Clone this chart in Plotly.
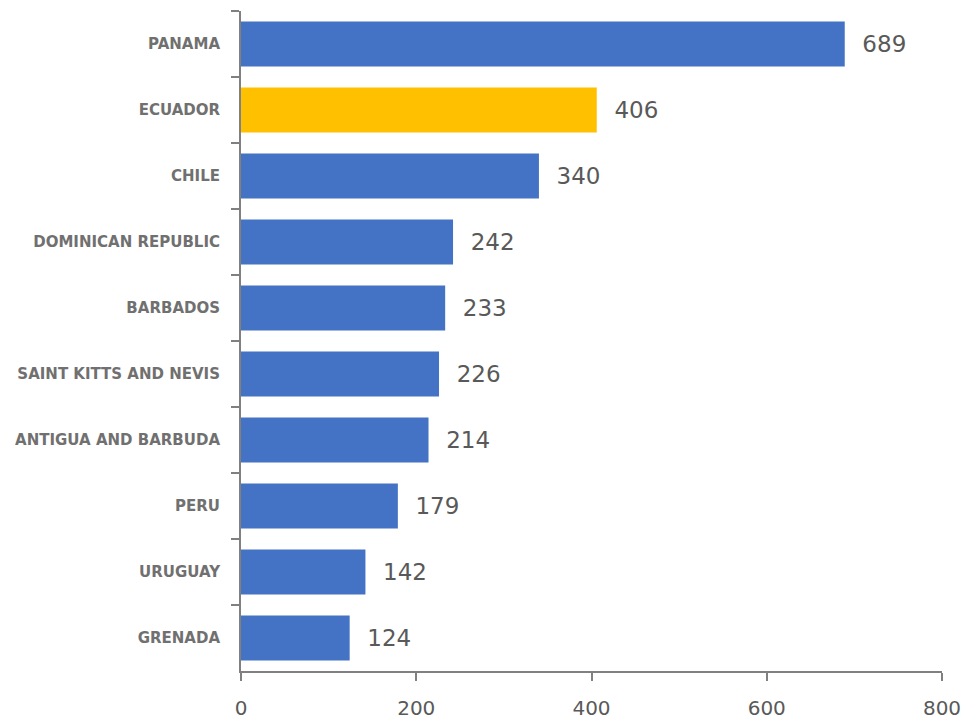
import plotly.graph_objects as go

countries = ["PANAMA", "ECUADOR", "CHILE", "DOMINICAN REPUBLIC", "BARBADOS",
             "SAINT KITTS AND NEVIS", "ANTIGUA AND BARBUDA", "PERU", "URUGUAY", "GRENADA"]
values = [689, 406, 340, 242, 233, 226, 214, 179, 142, 124]
highlight = "ECUADOR"
x_ticks = [0, 200, 400, 600, 800]

colors = ["#FFC000" if c == highlight else "#4472C4" for c in countries]
FONT = "DejaVu Sans, sans-serif"

fig = go.Figure(go.Bar(
    y=countries, x=values, orientation="h",
    marker=dict(color=colors, line=dict(width=0)),
    text=["  " + str(v) for v in values], textposition="outside",
    textfont=dict(family=FONT, size=23, color="#595959"),
    cliponaxis=False,
))

fig.update_layout(
    width=963, height=725,
    margin=dict(l=241, r=21, t=11, b=54, autoexpand=False),
    plot_bgcolor="white", paper_bgcolor="white",
    bargap=0.32,
    showlegend=False,
    xaxis=dict(range=[0, 800], tickvals=x_ticks, showgrid=False, zeroline=False,
               automargin=False,
               showline=True, linecolor="#808080", linewidth=2,
               ticks="outside", ticklen=8, tickwidth=2, tickcolor="#808080",
               ticklabelstandoff=10,
               tickfont=dict(family=FONT, size=20, color="#595959")),
    yaxis=dict(autorange="reversed", type="category", tickson="boundaries",
               automargin=False,
               showgrid=False, showline=True, linecolor="#808080", linewidth=2,
               ticks="outside", ticklen=8, tickwidth=2, tickcolor="#808080",
               ticklabelstandoff=16,
               tickfont=dict(family=FONT, size=15, color="#707070", weight="bold")),
)

fig.write_html("out.html")
